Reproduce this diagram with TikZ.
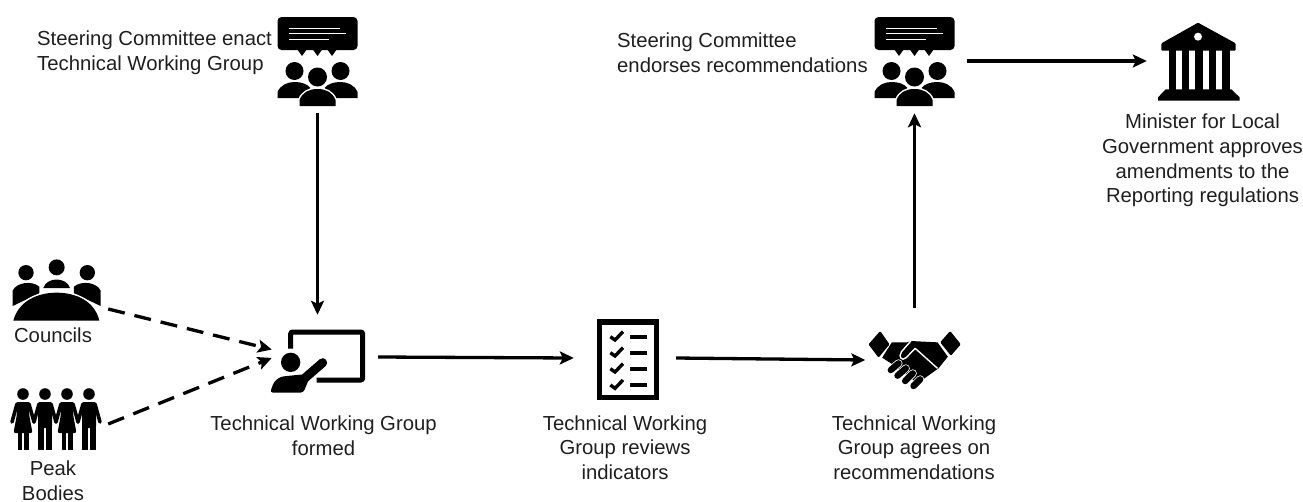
\documentclass[tikz,border=0pt]{standalone}
\usepackage{fontspec}
\setmainfont{Liberation Sans}
\usetikzlibrary{arrows.meta}
\tikzset{
  iconbox/.style={inner sep=0pt,minimum width=#1,minimum height=104pt},
  lbl/.style={inner sep=0pt,font=\fontsize{20.3}{24.7}\selectfont,text=black!88},
  flow/.style={-{Stealth[length=14pt,width=13pt,inset=3pt]},line width=3.3pt},
  dashflow/.style={-{Stealth[length=14pt,width=13pt,inset=3pt]},line width=3.3pt,dash pattern=on 17pt off 10pt},
  steering/.pic={
    \fill[rounded corners=4pt] (-40,-44) rectangle (40,-11);
    \foreach \tx in {-15.5,0,14.5} \fill (\tx-5,-12)--(\tx+5,-12)--(\tx,-5)--cycle;
    \draw[white,line width=1.2pt] (-28.7,-32.7)--(22,-32.7);
    \draw[white,line width=1.2pt] (-28.7,-27.3)--(28.7,-27.3);
    \draw[white,line width=1.2pt] (-28.7,-21.7)--(11.3,-21.7);
    \fill (-23,10) circle (9);
    \fill (23,10) circle (9);
    \fill (0,16) circle (9.5);
    \fill (-40,37)--(-40,31) .. controls (-37,24) and (-30,21) .. (-23,21) .. controls (-16,21) and (-10,23) .. (-7,27)--(-18,37)--cycle;
    \fill (40,37)--(40,31) .. controls (37,24) and (30,21) .. (23,21) .. controls (16,21) and (10,23) .. (7,27)--(18,37)--cycle;
    \fill[preaction={draw=white,line width=3pt}] (-18,45)--(-18,39) .. controls (-15,31) and (-8,28) .. (0,28) .. controls (8,28) and (15,31) .. (18,39)--(18,45)--cycle;
  },
  councilicon/.pic={
    \begin{scope}[scale=0.3333,shift={(-168,-135)}]
    \fill (78,68) circle (23);
    \fill (170,52) circle (24);
    \fill (262,68) circle (23);
    \fill (38,168)--(38,122) .. controls (48,98) and (95,90) .. (118,110)--(118,130)--cycle;
    \fill (302,168)--(302,122) .. controls (292,98) and (245,90) .. (222,110)--(222,130)--cycle;
    \fill (130,114) .. controls (140,80) and (200,80) .. (210,114)--cycle;
    \fill[preaction={draw=white,line width=3pt}] (40,212) .. controls (55,155) and (110,128) .. (170,128) .. controls (230,128) and (285,155) .. (298,212)--cycle;
    \end{scope}
  },
  womanicon/.pic={
    \fill (0,0) circle (5.8);
    \fill[rounded corners=2pt] (-7,8)--(7,8)--(6,20)--(9.5,39)--(-9.5,39)--(-6,20)--cycle;
    \fill (-5.5,38)rectangle(-1,56);
    \fill (1,38)rectangle(5.5,56);
    \draw[line width=3.6pt,line cap=round] (-6,10)--(-11,28);
    \draw[line width=3.6pt,line cap=round] (6,10)--(11,28);
  },
  manicon/.pic={
    \fill (0,0) circle (5.8);
    \fill[rounded corners=2pt] (-7,8)--(7,8)--(7,34)--(-7,34)--cycle;
    \fill (-6.8,30)rectangle(-0.8,56);
    \fill (0.8,30)rectangle(6.8,56);
    \draw[line width=3.6pt,line cap=round] (-6,10)--(-11,28);
    \draw[line width=3.6pt,line cap=round] (6,10)--(11,28);
  },
  peakicon/.pic={
    \pic at (-33,-30) {womanicon};
    \pic at (-11,-30) {manicon};
    \pic at (11,-30) {womanicon};
    \pic at (33,-30) {manicon};
  },
  boardicon/.pic={
    \begin{scope}[scale=0.3333,shift={(-195,-111)}]
    \draw[line width=5pt,rounded corners=2pt] (92,86)--(92,36)--(308,36)--(308,180)--(170,180);
    \fill (92,127) circle (29);
    \fill[rounded corners=3pt] (30,218)--(42,185)--(62,170)--(130,163)--(150,170)--(130,218)--cycle;
    \draw[line width=9pt,line cap=round] (128,180)--(188,128);
    \end{scope}
  },
  listicon/.pic={
    \begin{scope}[scale=0.3333,shift={(-120,-144)}]
    \draw[line width=5.4pt] (43,36) rectangle (214,262);
    \foreach \ty in {80,128,176,225}{
      \draw[line width=3.4pt] (76,\ty)--(90,\ty+10)--(114,\ty-15);
      \draw[line width=4pt] (135,\ty)--(187,\ty);
    }
    \end{scope}
  },
  handicon/.pic={
    \begin{scope}[scale=0.3333,shift={(-163,-125)}]
    \fill[rounded corners=1pt] (25,78)--(60,38)--(88,78)--(55,118)--cycle;
    \fill[rounded corners=1pt] (240,72)--(270,38)--(302,78)--(272,112)--cycle;
    \fill (95,72)--(140,72)--(152,68)--(232,72)--(263,115)--(235,150)--(172,195)--(100,140)--(66,118)--cycle;
    \draw[white,line width=1.4pt,line join=round] (152,68)--(124,100) .. controls (113,116) and (125,130) .. (138,118)--(165,90)--(232,150);
    \foreach \fa/\fb/\fc/\fd in {92/155/115/135,112/172/137/150,135/188/158/165,160/203/180/183}{
      \draw[white,line width=8pt,line cap=round] (\fa,\fb)--(\fc,\fd);
      \draw[line width=6.4pt,line cap=round] (\fa,\fb)--(\fc,\fd);
    }
    \end{scope}
  },
  bankicon/.pic={
    \begin{scope}[scale=0.3333,shift={(-175,-153)}]
    \fill[rounded corners=1pt] (175,38)--(288,100)--(288,122)--(65,122)--(65,100)--cycle;
    \fill[white] (175,80) circle (12);
    \foreach \cx in {87,127,167,207,248} \fill (\cx,120) rectangle (\cx+22,240);
    \fill (55,272)--(55,262)--(78,238)--(275,238)--(300,262)--(300,272)--cycle;
    \end{scope}
  }
}

\begin{document}
\begin{tikzpicture}[x=1pt,y=-1pt]
\useasboundingbox (0,0) rectangle (1303,501);

% icons
\node[iconbox=104pt] (enact) at (317.5,61) {};
\pic at (enact) {steering};
\node[iconbox=104pt] (endorse) at (914.5,61) {};
\pic at (endorse) {steering};
\node[iconbox=102pt] (minister) at (1198,61) {};
\pic at (minister) {bankicon};
\node[iconbox=104pt,minimum height=60pt] (councils) at (56,295) {};
\pic at (councils) {councilicon};
\node[iconbox=104pt,minimum height=60pt] (peak) at (56,424) {};
\pic at (peak) {peakicon};
\node[iconbox=106pt,minimum height=84pt] (formed) at (325,357) {};
\pic at (formed) {boardicon};
\node[iconbox=102pt] (reviews) at (625,358) {};
\pic at (reviews) {listicon};
\node[iconbox=98pt] (agrees) at (914.5,360) {};
\pic at (agrees) {handicon};

% labels
\node[lbl,anchor=west,align=left] (enacttext) at (37,53) {Steering Committee enact\\Technical Working Group};
\node[lbl,anchor=west,align=left] (endorsetext) at (617,53) {Steering Committee\\endorses recommendations};
\node[lbl,align=center] (ministertext) at (1202.5,160.5) {Minister for Local\\Government approves\\amendments to the\\Reporting regulations};
\node[lbl] (councilstext) at (53,335) {Councils};
\node[lbl,align=center] (peaktext) at (53,481) {Peak\\Bodies};
\node[lbl,align=center] (formedtext) at (323.5,436) {Technical Working Group\\formed};
\node[lbl,align=center] (reviewstext) at (625,447.5) {Technical Working\\Group reviews\\indicators};
\node[lbl,align=center] (agreestext) at (914,447.5) {Technical Working\\Group agrees on\\recommendations};

% connectors
\draw[flow] (enact.south)--(enact.south |- formed.north);
\draw[flow] (endorse.east)--(minister.west);
\draw[flow] (agrees.north)--(endorse.south);
\draw[flow] (formed.east)--(reviews.west);
\draw[flow] (reviews.east)--(agrees.west);
\draw[dashflow] (councils.-15)--(formed.172);
\draw[dashflow] (peak.east)--(formed.181.4);
\end{tikzpicture}
\end{document}
